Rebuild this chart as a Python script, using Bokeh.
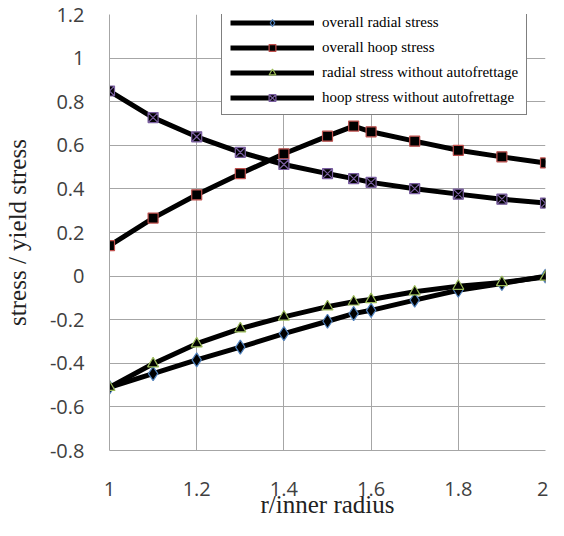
from bokeh.plotting import figure
from bokeh.models import Legend, LegendItem, FixedTicker
from bokeh.embed import file_html
from bokeh.resources import INLINE

# ---- data ----
r_ratio = [1.0, 1.1, 1.2, 1.3, 1.4, 1.5, 1.56, 1.6, 1.7, 1.8, 1.9, 2.0]
overall_radial = [-0.51, -0.447, -0.384, -0.326, -0.264, -0.207, -0.172, -0.157, -0.11, -0.065, -0.034, 0.0]
overall_hoop = [0.14, 0.266, 0.373, 0.47, 0.561, 0.642, 0.688, 0.662, 0.619, 0.577, 0.547, 0.519]
radial_wo = [-0.51, -0.402, -0.31, -0.241, -0.187, -0.14, -0.118, -0.107, -0.072, -0.046, -0.029, -0.004]
hoop_wo = [0.849, 0.727, 0.639, 0.568, 0.512, 0.47, 0.447, 0.43, 0.401, 0.376, 0.353, 0.335]

series_names = ["overall radial stress", "overall hoop stress",
                "radial stress without autofrettage", "hoop stress without autofrettage"]

x_ticks = [1.0, 1.2, 1.4, 1.6, 1.8, 2.0]
x_tick_labels = ["1", "1.2", "1.4", "1.6", "1.8", "2"]
y_ticks = [-0.8, -0.6, -0.4, -0.2, 0.0, 0.2, 0.4, 0.6, 0.8, 1.0, 1.2]
y_tick_labels = ["-0.8", "-0.6", "-0.4", "-0.2", "0", "0.2", "0.4", "0.6", "0.8", "1", "1.2"]

# ---- figure ----
p = figure(width=548, height=520, x_range=(1.0, 2.0), y_range=(-0.8, 1.2),
           output_backend="svg", toolbar_location=None,
           min_border_left=105, min_border_right=3, min_border_top=14, min_border_bottom=60)
p.outline_line_color = None
p.background_fill_color = "white"

grid_col = "#a6a6a6"
for ax, ticks, labels in ((p.xaxis[0], x_ticks, x_tick_labels), (p.yaxis[0], y_ticks, y_tick_labels)):
    ax.ticker = FixedTicker(ticks=ticks)
    ax.major_label_overrides = {t: l for t, l in zip(ticks, labels)}
    ax.axis_line_color = grid_col
    ax.major_tick_line_color = None
    ax.minor_tick_line_color = None
    ax.major_tick_out = 0
    ax.major_tick_in = 0
    ax.major_label_text_font = "Open Sans"
    ax.major_label_text_font_size = "20px"
    ax.major_label_text_color = "#404040"
    ax.axis_label_text_font = "Liberation Serif"
    ax.axis_label_text_font_size = "25px"
    ax.axis_label_text_font_style = "normal"
    ax.axis_label_text_color = "#222222"

p.xaxis.axis_label = "r/inner radius"
p.yaxis.axis_label = "stress / yield stress"
p.xaxis.major_label_standoff = 31
p.xaxis.axis_label_standoff = -8
p.yaxis.major_label_standoff = 25
p.yaxis.axis_label_standoff = 16

p.xgrid.ticker = FixedTicker(ticks=x_ticks)
p.ygrid.ticker = FixedTicker(ticks=y_ticks)
p.xgrid.grid_line_color = grid_col
p.ygrid.grid_line_color = grid_col
p.xgrid.grid_line_width = 1
p.ygrid.grid_line_width = 1

styles = [
    (overall_radial, "diamond", 14, "#4F81BD"),
    (overall_hoop, "square", 10, "#C0504D"),
    (radial_wo, "triangle", 11, "#9BBB59"),
    (hoop_wo, "square_x", 10, "#7A5FA0"),
]

items = []
for name, (ys, mk, sz, col) in zip(series_names, styles):
    lr = p.line(r_ratio, ys, line_color="black", line_width=5, line_join="round")
    sr = p.scatter(r_ratio, ys, marker=mk, size=sz, fill_color="black",
                   line_color=col, line_width=1.2)
    items.append(LegendItem(label=name, renderers=[lr, sr]))

legend = Legend(items=items, location=(112, 335))
legend.label_text_font = "Liberation Serif"
legend.label_text_font_size = "15px"
legend.label_text_color = "black"
legend.glyph_width = 84
legend.glyph_height = 17
legend.label_height = 17
legend.label_standoff = 8
legend.spacing = 8
legend.padding = 8
legend.margin = 0
legend.border_line_color = "black"
legend.border_line_width = 1
legend.background_fill_color = "white"
legend.background_fill_alpha = 1.0
p.add_layout(legend)

open("out.html", "w").write(file_html(p, INLINE))
